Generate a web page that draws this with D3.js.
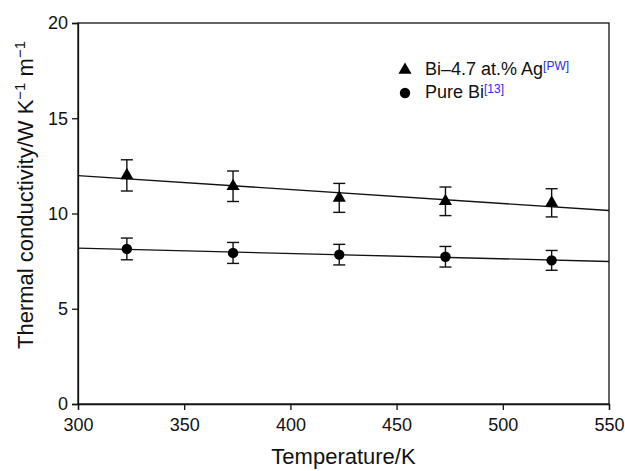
<!DOCTYPE html>
<html>
<head>
<meta charset="utf-8">
<script src="https://cdn.jsdelivr.net/npm/d3@7"></script>
<style>
  body { margin: 0; background: #fff; }
  text { font-family: "Liberation Sans", Arial, sans-serif; fill: #111; }
</style>
</head>
<body>
<div id="chart"></div>
<script>
// data
var temps = [323, 373, 423, 473, 523];
var agValues = [12.0, 11.43, 10.82, 10.64, 10.56];
var agErrors = [0.82, 0.80, 0.76, 0.75, 0.74];
var biValues = [8.14, 7.93, 7.84, 7.73, 7.54];
var biErrors = [0.57, 0.55, 0.54, 0.54, 0.52];
var xTicks = [300, 350, 400, 450, 500, 550];
var yTicks = [0, 5, 10, 15, 20];

var width = 625, height = 471;
var margin = {top: 23, right: 16, bottom: 67, left: 78};

var svg = d3.select("#chart").append("svg")
    .attr("width", width)
    .attr("height", height);

var x = d3.scaleLinear().domain([300, 550]).range([margin.left, width - margin.right]);
var y = d3.scaleLinear().domain([0, 20]).range([height - margin.bottom, margin.top]);

// frame
svg.append("rect")
    .attr("x", x(300)).attr("y", y(20))
    .attr("width", x(550) - x(300)).attr("height", y(0) - y(20))
    .attr("fill", "none").attr("stroke", "#111").attr("stroke-width", 1.3);

// axes
var xAxis = svg.append("g")
    .attr("transform", "translate(0," + y(0) + ")")
    .call(d3.axisBottom(x).tickValues(xTicks).tickSize(6).tickPadding(8));
var yAxis = svg.append("g")
    .attr("transform", "translate(" + x(300) + ",0)")
    .call(d3.axisLeft(y).tickValues(yTicks).tickSize(6).tickPadding(4));
[xAxis, yAxis].forEach(function(g) {
  g.select(".domain").attr("stroke", "#111").attr("stroke-width", 1.3);
  g.selectAll(".tick line").attr("stroke", "#111").attr("stroke-width", 1.3);
  g.selectAll(".tick text").attr("font-size", 18).attr("fill", "#111")
    .style("font-family", '"Liberation Sans", Arial, sans-serif');
});

// least squares fit line
function fit(xs, ys) {
  var mx = d3.mean(xs), my = d3.mean(ys);
  var num = 0, den = 0;
  for (var i = 0; i < xs.length; i++) {
    num += (xs[i] - mx) * (ys[i] - my);
    den += (xs[i] - mx) * (xs[i] - mx);
  }
  var b = num / den;
  return function(t) { return my + b * (t - mx); };
}

var series = [
  {values: agValues, errors: agErrors, symbol: d3.symbolTriangle, size: 75},
  {values: biValues, errors: biErrors, symbol: d3.symbolCircle, size: 85}
];

series.forEach(function(s) {
  var f = fit(temps, s.values);
  svg.append("line")
      .attr("x1", x(300)).attr("y1", y(f(300)))
      .attr("x2", x(550)).attr("y2", y(f(550)))
      .attr("stroke", "#111").attr("stroke-width", 1.3);

  var pts = temps.map(function(t, i) { return {t: t, v: s.values[i], e: s.errors[i]}; });

  var eb = svg.append("g").attr("stroke", "#111").attr("stroke-width", 1.4);
  eb.selectAll(".v").data(pts).enter().append("line")
      .attr("x1", function(d) { return x(d.t); }).attr("x2", function(d) { return x(d.t); })
      .attr("y1", function(d) { return y(d.v + d.e); }).attr("y2", function(d) { return y(d.v - d.e); });
  eb.selectAll(".top").data(pts).enter().append("line")
      .attr("x1", function(d) { return x(d.t) - 6; }).attr("x2", function(d) { return x(d.t) + 6; })
      .attr("y1", function(d) { return y(d.v + d.e); }).attr("y2", function(d) { return y(d.v + d.e); });
  eb.selectAll(".bot").data(pts).enter().append("line")
      .attr("x1", function(d) { return x(d.t) - 6; }).attr("x2", function(d) { return x(d.t) + 6; })
      .attr("y1", function(d) { return y(d.v - d.e); }).attr("y2", function(d) { return y(d.v - d.e); });

  svg.selectAll(null).data(pts).enter().append("path")
      .attr("d", d3.symbol().type(s.symbol).size(s.size))
      .attr("transform", function(d) { return "translate(" + x(d.t) + "," + y(d.v) + ")"; })
      .attr("fill", "#000");
});

// legend
var legend = [
  {label: "Bi\u20134.7 at.% Ag", ref: "[PW]", symbol: d3.symbolTriangle, size: 75},
  {label: "Pure Bi", ref: "[13]", symbol: d3.symbolCircle, size: 85}
];
legend.forEach(function(l, i) {
  var ly = 70 + i * 23;
  svg.append("path")
      .attr("d", d3.symbol().type(l.symbol).size(l.size))
      .attr("transform", "translate(405," + ly + ")")
      .attr("fill", "#000");
  var t = svg.append("text")
      .attr("x", 425).attr("y", ly + 5)
      .attr("font-size", 18);
  t.append("tspan").text(l.label);
  t.append("tspan").attr("dy", -5).attr("font-size", 12)
      .style("fill", "#2a2af0").text(l.ref);
});

// axis titles
svg.append("text")
    .attr("x", (x(300) + x(550)) / 2).attr("y", 464)
    .attr("text-anchor", "middle").attr("font-size", 22)
    .text("Temperature/K");

var yt = svg.append("text")
    .attr("transform", "translate(33,195) rotate(-90)")
    .attr("text-anchor", "middle").attr("font-size", 22);
yt.append("tspan").text("Thermal conductivity/W K");
yt.append("tspan").attr("dy", -8).attr("font-size", 15).text("\u22121");
yt.append("tspan").attr("dy", 8).text(" m");
yt.append("tspan").attr("dy", -8).attr("font-size", 15).text("\u22121");
</script>
</body>
</html>
